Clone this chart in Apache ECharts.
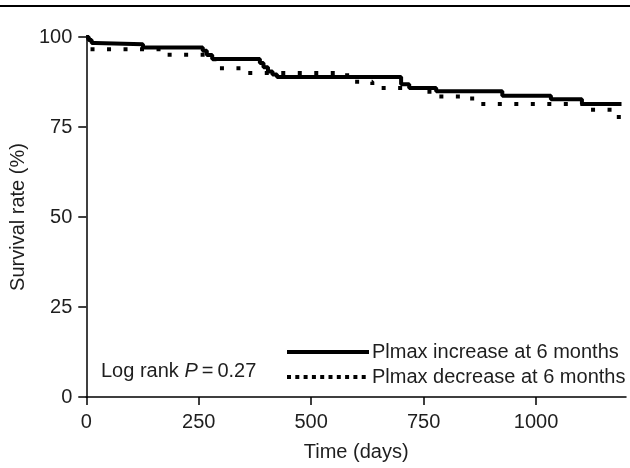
<!DOCTYPE html>
<html>
<head>
<meta charset="utf-8">
<script src="https://cdn.jsdelivr.net/npm/echarts@6/dist/echarts.min.js"></script>
<style>
  html, body { margin: 0; padding: 0; background: #fff; }
  #chart { width: 630px; height: 468px; }
</style>
</head>
<body>
<div id="chart"></div>
<script>
// Kaplan-Meier steps: [day, survival %]
const increaseSteps = [
  [0, 100], [5, 99.2], [12, 98.3], [20, 98.0], [126, 97.1], [259, 96.2],
  [268, 95.0], [280, 93.9], [386, 92.8], [394, 91.6], [404, 90.4],
  [414, 89.6], [424, 88.9], [700, 86.9], [718, 85.8], [778, 84.9],
  [925, 83.7], [1033, 82.7], [1102, 81.4], [1190, 81.4]
]
const decreaseSteps = [
  [0, 100], [5, 96.6], [180, 95.1], [285, 91.3], [345, 90.0], [580, 87.6],
  [636, 85.8], [763, 83.5], [858, 81.4], [1106, 79.8], [1184, 76.5], [1192, 76.5]
]
const seriesNames = ['Plmax increase at 6 months', 'Plmax decrease at 6 months']
const xTicks = [0, 250, 500, 750, 1000]
const yTicks = [0, 25, 50, 75, 100]

const font = "'Liberation Sans', Arial, Helvetica, sans-serif"
const ink = '#1e1e1e'

const chart = echarts.init(document.getElementById('chart'))

chart.setOption({
  animation: false,
  textStyle: { fontFamily: font, color: ink },
  grid: { left: 86, top: 37, right: 4, bottom: 71 },
  title: {
    text: 'Log rank {i|P}\u2009=\u20090.27',
    left: 101,
    top: 361,
    padding: 0,
    textStyle: {
      fontFamily: font,
      fontSize: 20,
      fontWeight: 'normal',
      color: ink,
      rich: { i: { fontStyle: 'italic', fontSize: 20, fontFamily: font, color: ink } }
    }
  },
  legend: {
    orient: 'vertical',
    left: 285,
    top: 342,
    itemWidth: 82,
    itemHeight: 12,
    itemGap: 5,
    padding: 0,
    itemStyle: { opacity: 0 },
    textStyle: { fontFamily: font, fontSize: 20, color: ink, padding: [0, 0, 0, -2] },
    data: [
      { name: seriesNames[0], lineStyle: { width: 4, color: '#000', type: 'solid' } },
      { name: seriesNames[1], lineStyle: { width: 4, color: '#000', type: [4, 4.3] } }
    ]
  },
  xAxis: {
    type: 'value',
    min: 0,
    max: 1200,
    interval: 250,
    name: 'Time (days)',
    nameLocation: 'middle',
    nameGap: 45,
    nameTextStyle: { fontFamily: font, fontSize: 20, color: ink },
    splitLine: { show: false },
    axisLine: { show: true, onZero: false, lineStyle: { color: '#000', width: 1.5 } },
    axisTick: { show: true, length: 8, customValues: xTicks, lineStyle: { color: '#000', width: 1.5 } },
    axisLabel: {
      customValues: xTicks,
      margin: 15,
      fontSize: 20,
      fontFamily: font,
      color: ink,
      formatter: v => String(v)
    }
  },
  yAxis: {
    type: 'value',
    min: 0,
    max: 100,
    interval: 25,
    name: 'Survival rate (%)',
    nameLocation: 'middle',
    nameGap: 55,
    nameTextStyle: { fontFamily: font, fontSize: 20, color: ink },
    splitLine: { show: false },
    axisLine: { show: true, lineStyle: { color: '#000', width: 1.5 } },
    axisTick: { show: true, length: 8, customValues: yTicks, lineStyle: { color: '#000', width: 1.5 } },
    axisLabel: { customValues: yTicks, margin: 14, fontSize: 20, fontFamily: font, color: ink }
  },
  graphic: [
    {
      type: 'line',
      shape: { x1: 0, y1: 6, x2: 630, y2: 6 },
      style: { stroke: '#000', lineWidth: 2 },
      silent: true
    }
  ],
  series: [
    {
      name: seriesNames[1],
      type: 'line',
      step: 'end',
      symbol: 'none',
      data: decreaseSteps,
      lineStyle: { color: '#000', width: 4, type: [4, 12.5] },
      itemStyle: { color: '#000' },
      z: 2
    },
    {
      name: seriesNames[0],
      type: 'line',
      step: 'end',
      symbol: 'none',
      data: increaseSteps,
      lineStyle: { color: '#000', width: 4 },
      itemStyle: { color: '#000' },
      z: 3
    }
  ]
})
</script>
</body>
</html>
